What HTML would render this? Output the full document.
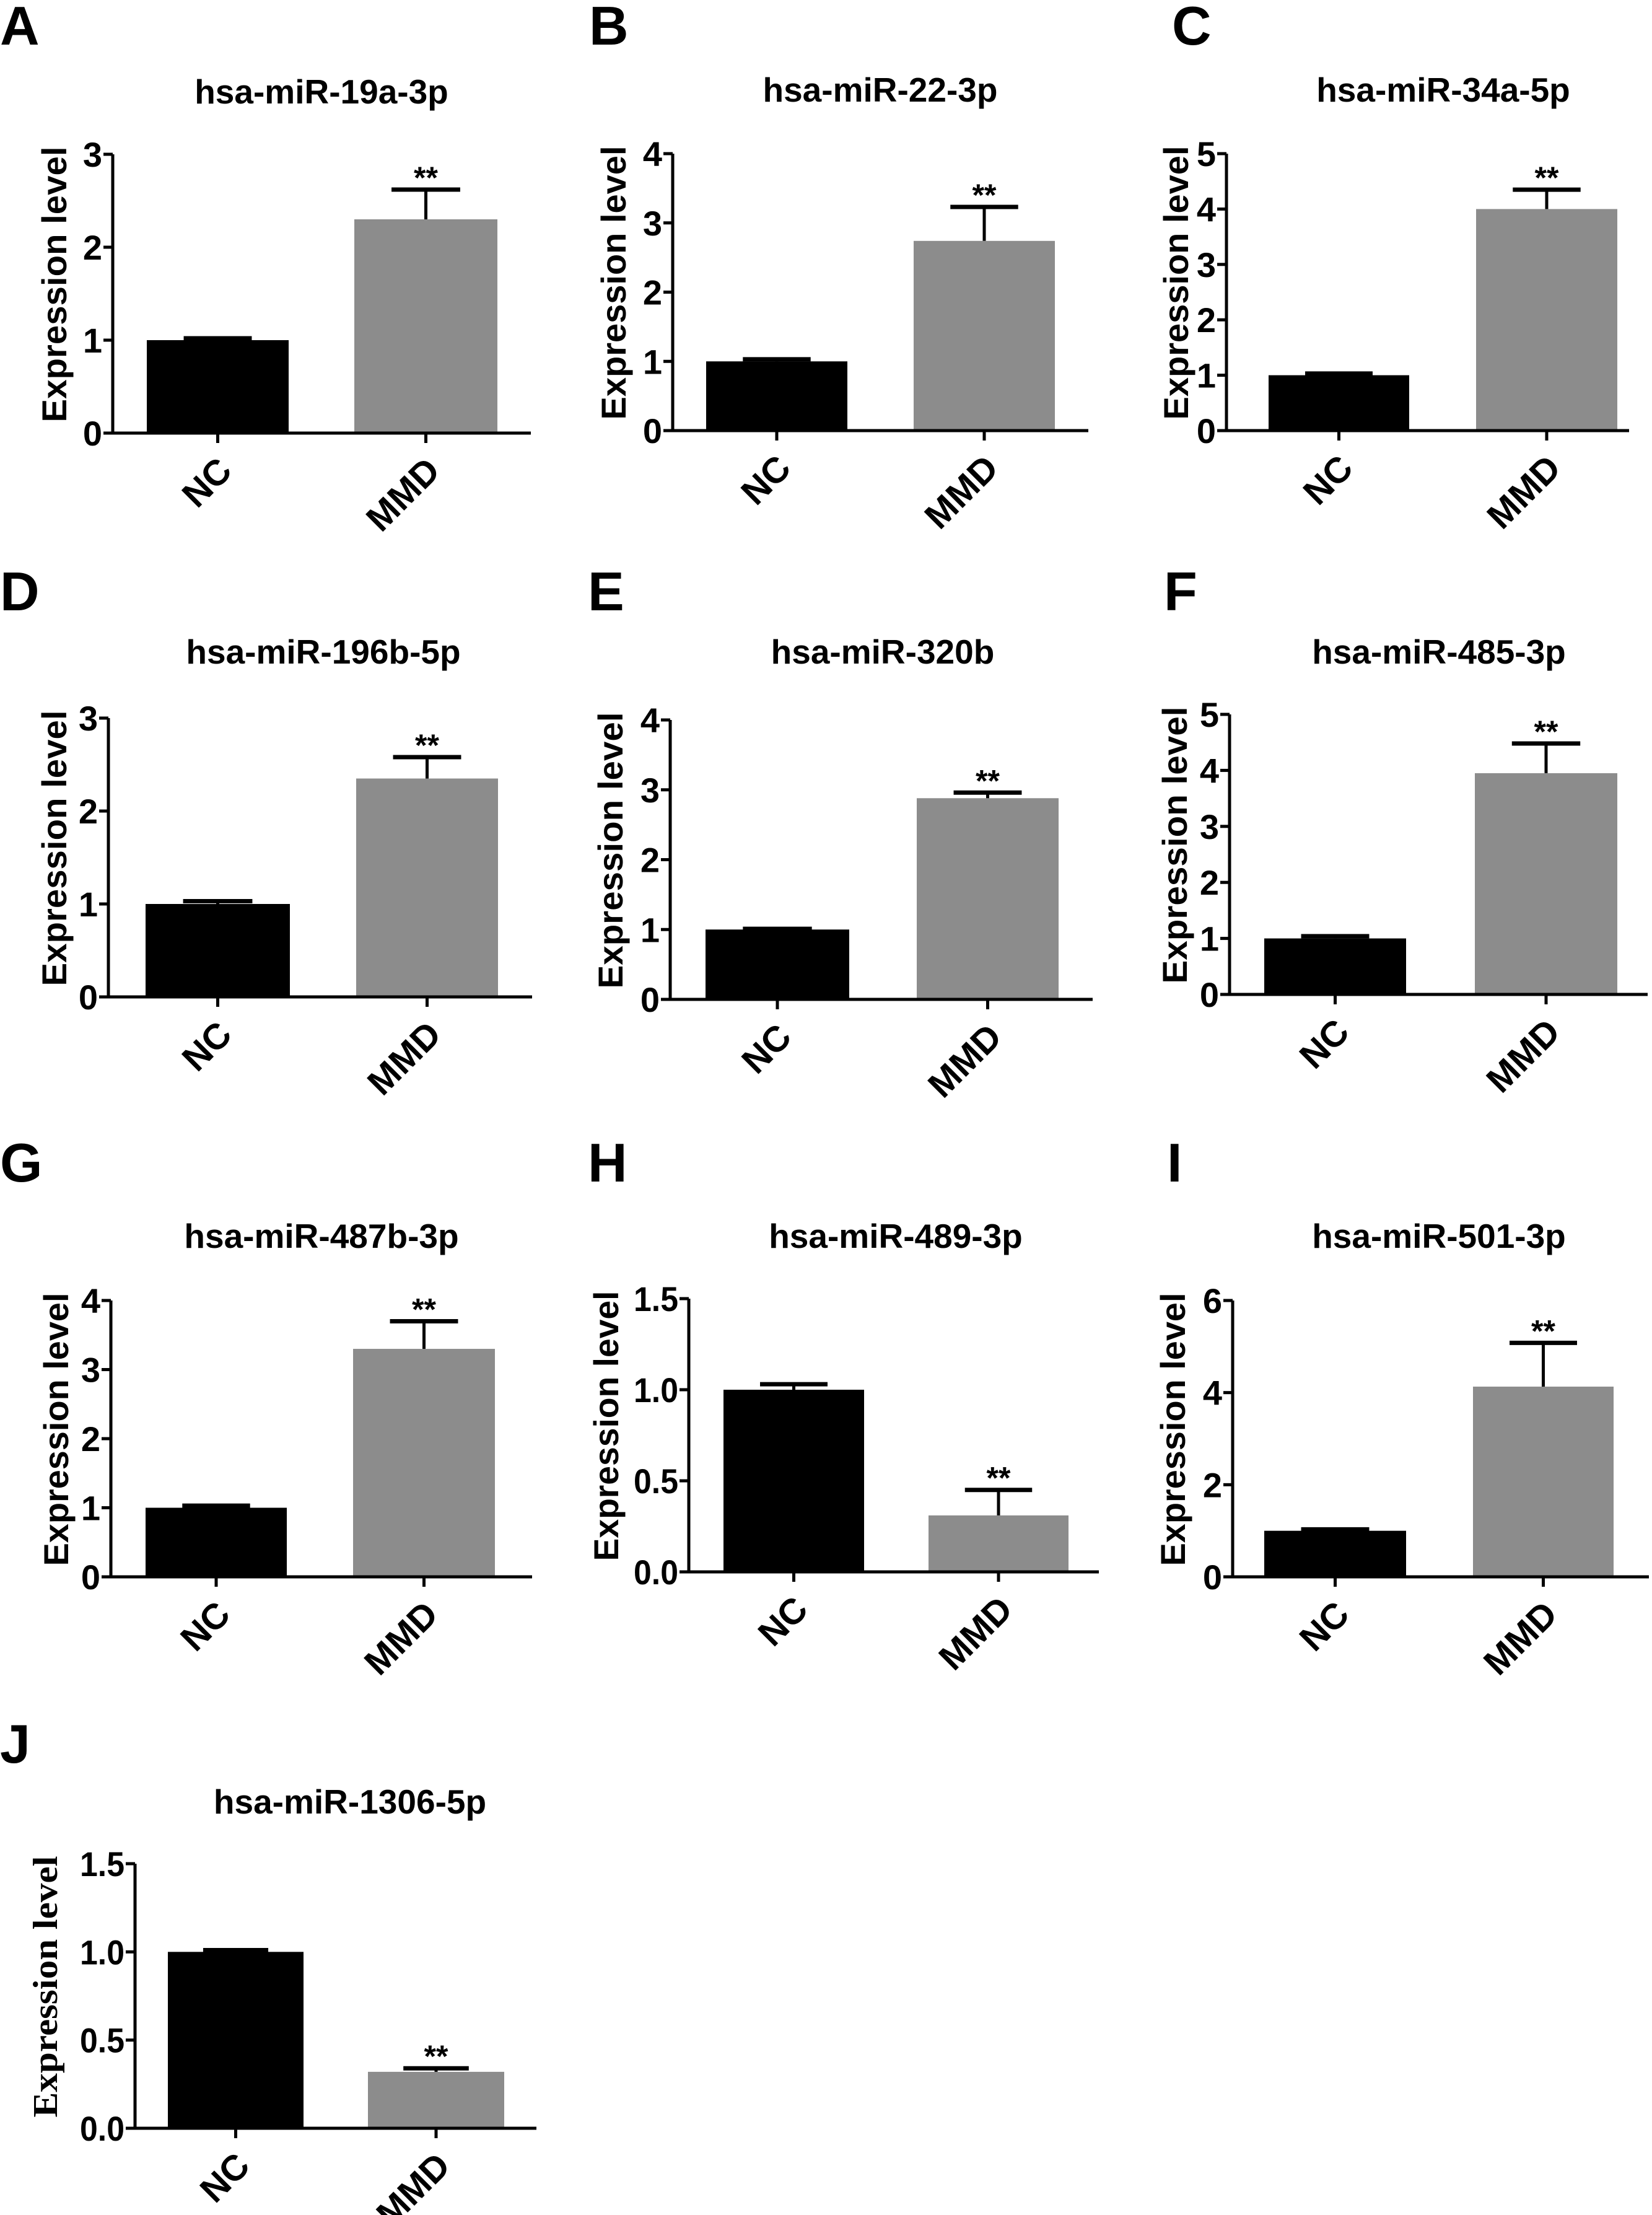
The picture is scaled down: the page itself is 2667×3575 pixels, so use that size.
<!DOCTYPE html>
<html><head><meta charset="utf-8"><style>
html,body{margin:0;padding:0;background:#fff;}
svg{display:block;}
</style></head><body>
<svg id="fig" width="2667" height="3575" viewBox="0 0 2667 3575" xmlns="http://www.w3.org/2000/svg"></svg>
<script>
// ---- data ----
const categories = ["NC", "MMD"];
const panelLetters = ["A","B","C","D","E","F","G","H","I","J"];
const panelTitles = ["hsa-miR-19a-3p","hsa-miR-22-3p","hsa-miR-34a-5p","hsa-miR-196b-5p","hsa-miR-320b","hsa-miR-485-3p","hsa-miR-487b-3p","hsa-miR-489-3p","hsa-miR-501-3p","hsa-miR-1306-5p"];
const ncValues  = [1.0, 1.0, 1.0, 1.0, 1.0, 1.0, 1.0, 1.0, 1.0, 1.0];
const ncErr     = [0.02, 0.03, 0.03, 0.03, 0.01, 0.04, 0.03, 0.03, 0.03, 0.01];
const mmdValues = [2.30, 2.74, 4.00, 2.35, 2.88, 3.95, 3.30, 0.31, 4.13, 0.32];
const mmdErr    = [0.32, 0.49, 0.35, 0.23, 0.08, 0.53, 0.40, 0.14, 0.95, 0.02];
const yMaxes    = [3, 4, 5, 3, 4, 5, 4, 1.5, 6, 1.5];
const yStepArr  = [1, 1, 1, 1, 1, 1, 1, 0.5, 2, 0.5];
const tickDecimals = [0,0,0,0,0,0,0,1,0,1];
const sigMarks  = ["**","**","**","**","**","**","**","**","**","**"];

// ---- layout (pixels) ----
const layout = [
 {ax:182, top:249, zero:699, end:857, nc:[237,466], mmd:[572,803], tcx:519, tb:167, lx:0, lb:72, atx:87},
 {ax:1086, top:248, zero:695, end:1757, nc:[1140,1368], mmd:[1475,1703], tcx:1421, tb:164, lx:951, lb:72, atx:990},
 {ax:1980, top:248, zero:695, end:2630, nc:[2048,2275], mmd:[2383,2611], tcx:2330, tb:164, lx:1892, lb:72, atx:1898},
 {ax:175, top:1159, zero:1609, end:859, nc:[235,468], mmd:[575,804], tcx:522, tb:1071, lx:0, lb:985, atx:87},
 {ax:1082, top:1162, zero:1613, end:1764, nc:[1139,1371], mmd:[1480,1709], tcx:1425, tb:1071, lx:949, lb:985, atx:985},
 {ax:1985, top:1153, zero:1605, end:2660, nc:[2041,2270], mmd:[2381,2611], tcx:2323, tb:1071, lx:1879, lb:985, atx:1896},
 {ax:179, top:2099, zero:2545, end:859, nc:[235,463], mmd:[570,799], tcx:519, tb:2014, lx:0, lb:1907, atx:90},
 {ax:1112, top:2096, zero:2537, end:1774, nc:[1168,1395], mmd:[1499,1725], tcx:1446, tb:2014, lx:949, lb:1907, atx:978},
 {ax:1990, top:2099, zero:2545, end:2662, nc:[2041,2270], mmd:[2378,2605], tcx:2323, tb:2014, lx:1884, lb:1907, atx:1893},
 {ax:218, top:3008, zero:3435, end:866, nc:[271,490], mmd:[594,814], tcx:565, tb:2927, lx:0, lb:2845, atx:72, serif:true}
];

const NS = "http://www.w3.org/2000/svg";
const svg = document.getElementById("fig");
const SANS = '"Liberation Sans", Arial, sans-serif';
const SERIF = '"Liberation Serif", "Times New Roman", serif';

function mk(tag, attrs, parent) {
  const e = document.createElementNS(NS, tag);
  for (const k in attrs) e.setAttribute(k, attrs[k]);
  parent.appendChild(e);
  return e;
}

for (let i = 0; i < layout.length; i++) {
  const L = layout[i];
  const g = mk("g", {}, svg);
  
  
  const yScale = v => L.zero - (v / yMaxes[i]) * (L.zero - L.top);

  const lt = mk("text", {x:L.lx, y:L.lb, "font-family":SANS, "font-weight":"bold", "font-size":88, fill:"#000"}, g);
  lt.textContent = panelLetters[i];
  
  

  const tt = mk("text", {x:L.tcx, y:L.tb, "text-anchor":"middle", "font-family":SANS, "font-weight":"bold", "font-size":55, fill:"#000"}, g);
  tt.textContent = panelTitles[i];
  
  

  const span = L.zero - L.top;
  const cy = (L.top + L.zero) / 2 - 15;
  const at = mk("text", {x:0, y:0, transform:`translate(${L.atx + 20},${cy}) rotate(-90)`, "text-anchor":"middle",
     "font-family": L.serif ? SERIF : SANS, "font-weight":"bold", "font-size": L.serif ? 56 : 56, fill:"#000",
     textLength: span - 5, lengthAdjust:"spacingAndGlyphs"}, g);
  at.textContent = "Expression level";
  
  

  const vals = [ncValues[i], mmdValues[i]];
  const errs = [ncErr[i], mmdErr[i]];
  const xs = [L.nc, L.mmd];
  const fills = ["#000000", "#8c8c8c"];
  for (let c = 0; c < 2; c++) {
    const yv = yScale(vals[c]);
    const b = mk("rect", {x:xs[c][0], y:yv, width:xs[c][1]-xs[c][0], height:L.zero-yv, fill:fills[c]}, g);
    
    
    const cx = (xs[c][0] + xs[c][1]) / 2;
    const ye = yScale(vals[c] + errs[c]);
    const capW = (xs[c][1] - xs[c][0]) * 0.48;
    const ev = mk("line", {x1:cx, x2:cx, y1:yv, y2:ye, stroke:"#000", "stroke-width":5}, g);
    
    
    const ec = mk("line", {x1:cx-capW/2, x2:cx+capW/2, y1:ye, y2:ye, stroke:"#000", "stroke-width":7}, g);
    
    
    if (c === 1) {
      const st = mk("text", {x:cx, y:ye - 2, "text-anchor":"middle", "font-family":SANS, "font-weight":"bold", "font-size":50, fill:"#000"}, g);
      st.textContent = sigMarks[i];
      
      
    }
    const xt = mk("line", {x1:cx, x2:cx, y1:L.zero, y2:L.zero+16, stroke:"#000", "stroke-width":5}, g);
    
    
    const cl = mk("text", {x:0, y:0, transform:`translate(${cx+26},${L.zero+64}) rotate(-45)`, "text-anchor":"end",
       "font-family":SANS, "font-weight":"bold", "font-size":58, fill:"#000"}, g);
    cl.textContent = categories[c];
    
    
  }

  const ya = mk("line", {x1:L.ax, x2:L.ax, y1:L.top, y2:L.zero+2.5, stroke:"#000", "stroke-width":5}, g);
  
  
  const xa = mk("line", {x1:L.ax-15, x2:L.end, y1:L.zero, y2:L.zero, stroke:"#000", "stroke-width":5}, g);
  
  
  const nT = Math.round(yMaxes[i] / yStepArr[i]);
  for (let t = 0; t <= nT; t++) {
    const v = t * yStepArr[i];
    const y = yScale(v);
    const tk = mk("line", {x1:L.ax-15, x2:L.ax, y1:y, y2:y, stroke:"#000", "stroke-width":5}, g);
    
    
    const tl = mk("text", {x:L.ax-17, y:y+20, "text-anchor":"end", "font-family":SANS, "font-weight":"bold", "font-size":56, fill:"#000"}, g);
    tl.textContent = v.toFixed(tickDecimals[i]);
    if (tickDecimals[i] > 0) { tl.setAttribute("textLength", 72); tl.setAttribute("lengthAdjust", "spacingAndGlyphs"); }
    
    
  }
}
</script>
</body></html>
